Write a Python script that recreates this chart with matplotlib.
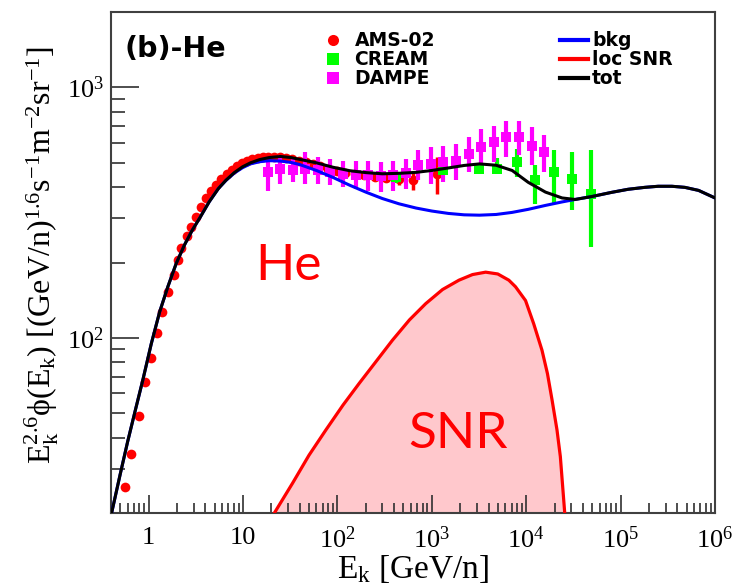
import numpy as np
import matplotlib
matplotlib.use("Agg")
import matplotlib.pyplot as plt
from matplotlib.lines import Line2D
from matplotlib.ticker import FixedLocator, FuncFormatter, NullFormatter

plt.rcParams["mathtext.fontset"] = "custom"
plt.rcParams["mathtext.rm"] = "Liberation Serif"
plt.rcParams["mathtext.it"] = "Liberation Serif:italic"
plt.rcParams["mathtext.bf"] = "Liberation Serif:bold"

# ---- measurements: E_k [GeV/n], E^2.6 * flux ----
ams_E = [0.557, 0.656, 0.79, 0.907, 1.05, 1.24, 1.40, 1.60, 1.85, 2.04, 2.21,
         2.54, 2.83, 3.19, 3.60, 4.07, 4.6, 5.2, 5.9, 6.7, 7.6, 8.6, 9.8, 11.1,
         12.6, 14.3, 16.3, 18.5, 21.3, 24.6, 28.5, 33.3, 39, 46, 55, 66, 80,
         98, 121, 152, 193, 250, 330, 450, 640, 1140]
ams_F = [25.3, 34.4, 49, 66.4, 83.2, 105, 127, 152, 178, 205, 229,
         254, 278, 305, 333, 362, 385, 408, 432, 452, 470, 486, 498, 508,
         516, 522, 526, 528, 528, 526, 522, 517, 510, 502, 493, 484, 474,
         465, 457, 450, 445, 440, 436, 430, 425, 452]
ams_err = [0.5, 0.6, 0.8, 1, 1.2, 1.5, 1.8, 2, 2.3, 2.6, 2.8,
           3, 3.2, 3.5, 3.8, 4, 4, 4, 4.5, 4.5, 5, 5, 5, 5,
           5, 5, 6, 6, 6, 6, 6, 6, 7, 7, 7, 8, 8,
           9, 10, 11, 13, 15, 18, 24, 35, 75]

cream_E = [420, 1300, 3150, 4920, 8020, 12300, 19600, 30600, 48500]
cream_F = [440, 470, 473, 473, 503, 425, 458, 432, 376]
cream_lo = [415, 445, 452, 458, 438, 343, 343, 323, 230]
cream_hi = [465, 495, 488, 524, 567, 488, 560, 551, 560]

dampe_E = [18.2, 24.8, 33.6, 45.7, 62.1, 84.4, 115, 156, 212, 288, 391, 532,
           723, 982, 1330, 1810, 2460, 3350, 4550, 6180, 8400, 11400, 15500]
dampe_F = [458, 473, 469, 473, 466, 458, 452, 448, 445, 441, 445, 454,
           488, 495, 503, 510, 543, 577, 604, 632, 636, 586, 551]
dampe_lo = [387, 412, 419, 412, 412, 406, 400, 394, 387, 382, 387, 394,
            425, 412, 419, 425, 458, 488, 502, 526, 535, 488, 458]
dampe_hi = [502, 535, 526, 551, 526, 519, 510, 510, 510, 502, 510, 519,
            560, 577, 586, 595, 632, 683, 704, 736, 736, 693, 643]

# ---- model curves ----
model_E = [0.40, 0.50, 0.60, 0.72, 0.87, 1.07, 1.31, 1.60, 1.96, 2.4, 2.9,
           3.5, 4.4, 5.5, 6.6, 8.1, 9.9, 12, 15, 19, 25, 32, 40, 60, 90,
           135, 200, 300, 450, 680, 1000, 1500, 2200, 3200, 4800, 7100,
           10500, 16000, 24000, 33000, 50000, 80000, 1.2e5, 1.8e5, 2.5e5,
           3.5e5, 4.8e5, 6.7e5, 1e6]
bkg_F = [19.5, 28.5, 38.5, 51, 68, 95, 127, 160, 198, 235, 269,
         302, 350, 395, 425, 455, 478, 495, 505, 510, 508, 502, 492, 466, 437,
         407, 382, 360, 343, 330, 321, 314, 310, 309, 311, 317,
         326, 338, 349, 357, 367, 381, 392, 399, 403,
         403, 399, 388, 362]
tot_F = [19.5, 28.5, 38.5, 51, 68, 95, 127, 160, 198, 235, 269,
         302, 350, 395, 426, 457, 482, 500, 515, 525, 530, 525, 516, 500, 480,
         465, 457, 452, 454, 458, 466, 477, 488, 495, 489, 466,
         418, 382, 362, 357, 367, 381, 392, 399, 403,
         403, 399, 388, 362]

snr_E = [19, 21.5, 33.5, 50, 75.5, 115, 170, 260, 383, 580, 862, 1300, 1940,
         2700, 3720, 5000, 6550, 7710, 9840, 12000, 14700, 16800, 18800,
         21200, 23000, 25600, 27000]
snr_F = [18.5, 20, 26.3, 34, 42.9, 54, 65.8, 81, 97.9, 118, 137, 156, 170,
         179, 183, 180, 170, 160, 141, 114, 89.3, 72, 56.5,
         42.9, 33.6, 20, 15]

XLIM = (0.4, 1e6)
YLIM = (20, 2000)
x_major = [1, 10, 1e2, 1e3, 1e4, 1e5, 1e6]
y_major = [1e2, 1e3]

fig = plt.figure(figsize=(7.36, 5.86), dpi=100)
ax = fig.add_axes([111 / 736, 73 / 586, 604 / 736, 501 / 586])
ax.set_xscale("log")
ax.set_yscale("log")
ax.set_xlim(*XLIM)
ax.set_ylim(*YLIM)

def err(F, lo, hi):
    F, lo, hi = map(np.asarray, (F, lo, hi))
    return [F - lo, hi - F]

ax.errorbar(ams_E, ams_F, yerr=ams_err, fmt="o", color="#ff0000", ms=7,
            elinewidth=2.5, capsize=0, mew=0, zorder=2)
ax.errorbar(cream_E, cream_F, yerr=err(cream_F, cream_lo, cream_hi), fmt="s",
            color="#00ff00", ms=6.5, elinewidth=3, capsize=0, mew=0, zorder=3)
ax.errorbar(dampe_E, dampe_F, yerr=err(dampe_F, dampe_lo, dampe_hi), fmt="s",
            color="#ff00ff", ms=6.5, elinewidth=3, capsize=0, mew=0, zorder=3)

ax.fill_between(snr_E, snr_F, YLIM[0] * 0.5, color="#ffc8cc", lw=0, zorder=1)
ax.plot(snr_E, snr_F, color="#ff0000", lw=2.3, zorder=4)
ax.plot(model_E, bkg_F, color="#0000ff", lw=2.2, zorder=5)
ax.plot(model_E, tot_F, color="#000000", lw=2.2, zorder=6)

# axis styling
for side in ("left", "bottom", "right", "top"):
    ax.spines[side].set_linewidth(1.5)
    ax.spines[side].set_color("#404040")
ax.tick_params(which="both", direction="in", top=False, right=False,
               color="#303030", width=1.2)
ax.tick_params(axis="y", which="major", length=20, pad=5)
ax.tick_params(axis="y", which="minor", length=10)
ax.tick_params(axis="x", which="major", length=13, pad=10)
ax.tick_params(axis="x", which="minor", length=7)

minor_subs = np.arange(2, 10)
ax.xaxis.set_major_locator(FixedLocator(x_major))
ax.xaxis.set_minor_locator(FixedLocator(
    [m * 10.0 ** k for k in range(-1, 6) for m in minor_subs]))
ax.yaxis.set_major_locator(FixedLocator(y_major))
ax.yaxis.set_minor_locator(FixedLocator(
    [m * 10.0 ** k for k in range(1, 4) for m in minor_subs]))
ax.xaxis.set_minor_formatter(NullFormatter())
ax.yaxis.set_minor_formatter(NullFormatter())

def pow_fmt(v, pos):
    e = int(round(np.log10(v)))
    if e == 0:
        return "1"
    if e == 1:
        return "10"
    return r"$\mathrm{10^{%d}}$" % e

ax.xaxis.set_major_formatter(FuncFormatter(pow_fmt))
ax.yaxis.set_major_formatter(FuncFormatter(pow_fmt))
for lab in ax.get_xticklabels() + ax.get_yticklabels():
    lab.set_fontfamily("Liberation Serif")
    lab.set_fontsize(19)

ax.set_xlabel(r"$\mathrm{E_k}$ [GeV/n]", family="Liberation Serif",
              fontsize=24, labelpad=0)
ax.set_ylabel(r"$\mathrm{E_k^{2.6}}$ϕ$\mathrm{(E_k)}$ "
              r"[(GeV/n)$^{\mathrm{1.6}}$s$^{\mathrm{-1}}$m$^{\mathrm{-2}}$sr$^{\mathrm{-1}}$]",
              family="Liberation Serif", fontsize=23)
ax.yaxis.set_label_coords(-0.083, 0.515)

ax.text(0.023, 0.926, "(b)-He", transform=ax.transAxes, family="DejaVu Sans",
        weight="bold", fontsize=20.5, va="center", ha="left")
ax.text(0.238, 0.465, "He", transform=ax.transAxes, family="Lato",
        fontsize=37, color="#ff0000", va="baseline", ha="left")
ax.text(0.492, 0.130, "SNR", transform=ax.transAxes, family="Lato",
        fontsize=37, color="#ff0000", va="baseline", ha="left")

lfont = {"family": "DejaVu Sans", "weight": "bold", "size": 13.5}
h1 = [Line2D([], [], ls="none", marker="o", color="#ff0000", ms=8, mew=0),
      Line2D([], [], ls="none", marker="s", color="#00ff00", ms=8.5, mew=0),
      Line2D([], [], ls="none", marker="s", color="#ff00ff", ms=8.5, mew=0)]
leg1 = ax.legend(h1, ["AMS-02", "CREAM", "DAMPE"], loc="upper left",
                 bbox_to_anchor=(0.352, 0.962), frameon=False, prop=lfont,
                 labelspacing=0.0, handlelength=1.0, handleheight=0.6,
                 handletextpad=0.65, borderaxespad=0, borderpad=0)
ax.add_artist(leg1)
h2 = [Line2D([], [], color="#0000ff", lw=3),
      Line2D([], [], color="#ff0000", lw=3),
      Line2D([], [], color="#000000", lw=3)]
ax.legend(h2, ["bkg", "loc SNR", "tot"], loc="upper left",
          bbox_to_anchor=(0.7434, 0.962), frameon=False, prop=lfont,
          labelspacing=0.0, handlelength=1.5, handleheight=0.6,
          handletextpad=0.2, borderaxespad=0, borderpad=0)

fig.savefig("out.png", dpi=100, facecolor="white")
